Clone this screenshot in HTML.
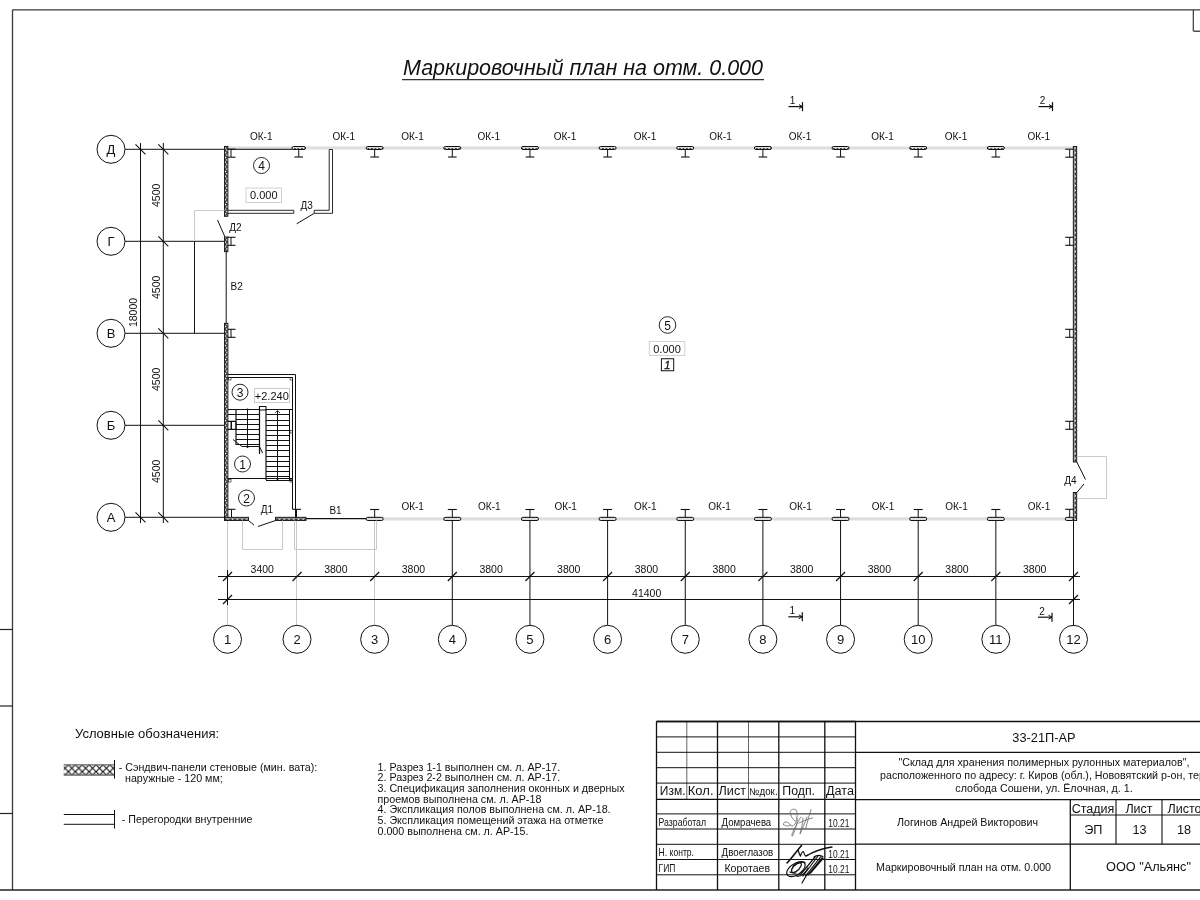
<!DOCTYPE html><html><head><meta charset="utf-8"><style>
html,body{margin:0;padding:0;background:#fff;width:1200px;height:900px;overflow:hidden}
svg{display:block;filter:grayscale(1);font-family:"Liberation Sans",sans-serif}
text{fill:#111;opacity:0.999}
</style></head><body>
<svg width="1200" height="900" viewBox="0 0 1200 900">
<defs>
<pattern id="hv" width="3.4" height="4.7" patternUnits="userSpaceOnUse"><rect width="3.4" height="4.7" fill="#eee"/><path d="M0 0 L3.4 2.35 L0 4.7" fill="none" stroke="#222" stroke-width="1.3"/></pattern>
<pattern id="hh" width="4.7" height="3.2" patternUnits="userSpaceOnUse"><rect width="4.7" height="3.2" fill="#eee"/><path d="M0 0 L2.35 3.2 L4.7 0" fill="none" stroke="#222" stroke-width="1.3"/></pattern>
<pattern id="xh" width="6.9" height="6.9" patternUnits="userSpaceOnUse" x="61.55" y="764.75"><rect width="6.9" height="6.9" fill="#fff"/><path d="M-1 -1 L7.9 7.9 M7.9 -1 L-1 7.9" stroke="#111" stroke-width="1.1"/></pattern>
<pattern id="fl" width="3.5" height="3" patternUnits="userSpaceOnUse"><rect width="3.5" height="3" fill="#ddd"/><rect x="0" y="1" width="1.8" height="1" fill="#444"/></pattern>
</defs>

<line x1="12.5" y1="9.8" x2="12.5" y2="890" stroke="#3a3a3a" stroke-width="1.3"/>
<line x1="12.5" y1="9.8" x2="1200" y2="9.8" stroke="#3a3a3a" stroke-width="1.3"/>
<line x1="0" y1="890" x2="1200" y2="890" stroke="#222" stroke-width="1.3"/>
<line x1="0" y1="629.5" x2="12.5" y2="629.5" stroke="#222" stroke-width="1.2"/>
<line x1="0" y1="706" x2="12.5" y2="706" stroke="#222" stroke-width="1.2"/>
<line x1="0" y1="813.5" x2="12.5" y2="813.5" stroke="#222" stroke-width="1.2"/>
<line x1="1193.3" y1="9.8" x2="1193.3" y2="31.2" stroke="#3a3a3a" stroke-width="1.2"/>
<line x1="1193.5" y1="31.2" x2="1200" y2="31.2" stroke="#222" stroke-width="1.2"/>
<text x="403" y="75.4" font-size="21.5" font-style="italic" text-anchor="start" textLength="360" lengthAdjust="spacingAndGlyphs">Маркировочный план на отм. 0.000</text>
<line x1="402" y1="79.6" x2="764" y2="79.6" stroke="#333" stroke-width="1.3"/>
<line x1="227.5" y1="520.5" x2="227.5" y2="625.3" stroke="#c9c9c9" stroke-width="1"/>
<line x1="296.5" y1="520.5" x2="296.5" y2="625.3" stroke="#c9c9c9" stroke-width="1"/>
<line x1="374.5" y1="520.5" x2="374.5" y2="625.3" stroke="#c9c9c9" stroke-width="1"/>
<line x1="452.3" y1="520.5" x2="452.3" y2="625.3" stroke="#111" stroke-width="1"/>
<line x1="529.95" y1="520.5" x2="529.95" y2="625.3" stroke="#111" stroke-width="1"/>
<line x1="607.6" y1="520.5" x2="607.6" y2="625.3" stroke="#111" stroke-width="1"/>
<line x1="685.25" y1="520.5" x2="685.25" y2="625.3" stroke="#111" stroke-width="1"/>
<line x1="762.9" y1="520.5" x2="762.9" y2="625.3" stroke="#111" stroke-width="1"/>
<line x1="840.55" y1="520.5" x2="840.55" y2="625.3" stroke="#111" stroke-width="1"/>
<line x1="918.2" y1="520.5" x2="918.2" y2="625.3" stroke="#111" stroke-width="1"/>
<line x1="995.85" y1="520.5" x2="995.85" y2="625.3" stroke="#111" stroke-width="1"/>
<line x1="1073.5" y1="520.5" x2="1073.5" y2="625.3" stroke="#111" stroke-width="1"/>
<line x1="227.5" y1="570" x2="227.5" y2="605" stroke="#111" stroke-width="1"/>
<circle cx="227.5" cy="639.3" r="14" fill="white" stroke="#111" stroke-width="1"/>
<text x="227.5" y="643.9" font-size="13" text-anchor="middle" >1</text>
<circle cx="297.0" cy="639.3" r="14" fill="white" stroke="#111" stroke-width="1"/>
<text x="297.0" y="643.9" font-size="13" text-anchor="middle" >2</text>
<circle cx="374.65" cy="639.3" r="14" fill="white" stroke="#111" stroke-width="1"/>
<text x="374.65" y="643.9" font-size="13" text-anchor="middle" >3</text>
<circle cx="452.3" cy="639.3" r="14" fill="white" stroke="#111" stroke-width="1"/>
<text x="452.3" y="643.9" font-size="13" text-anchor="middle" >4</text>
<circle cx="529.95" cy="639.3" r="14" fill="white" stroke="#111" stroke-width="1"/>
<text x="529.95" y="643.9" font-size="13" text-anchor="middle" >5</text>
<circle cx="607.6" cy="639.3" r="14" fill="white" stroke="#111" stroke-width="1"/>
<text x="607.6" y="643.9" font-size="13" text-anchor="middle" >6</text>
<circle cx="685.25" cy="639.3" r="14" fill="white" stroke="#111" stroke-width="1"/>
<text x="685.25" y="643.9" font-size="13" text-anchor="middle" >7</text>
<circle cx="762.9" cy="639.3" r="14" fill="white" stroke="#111" stroke-width="1"/>
<text x="762.9" y="643.9" font-size="13" text-anchor="middle" >8</text>
<circle cx="840.55" cy="639.3" r="14" fill="white" stroke="#111" stroke-width="1"/>
<text x="840.55" y="643.9" font-size="13" text-anchor="middle" >9</text>
<circle cx="918.2" cy="639.3" r="14" fill="white" stroke="#111" stroke-width="1"/>
<text x="918.2" y="643.9" font-size="13" text-anchor="middle" >10</text>
<circle cx="995.85" cy="639.3" r="14" fill="white" stroke="#111" stroke-width="1"/>
<text x="995.85" y="643.9" font-size="13" text-anchor="middle" >11</text>
<circle cx="1073.5" cy="639.3" r="14" fill="white" stroke="#111" stroke-width="1"/>
<text x="1073.5" y="643.9" font-size="13" text-anchor="middle" >12</text>
<line x1="125" y1="149.3" x2="224.5" y2="149.3" stroke="#111" stroke-width="1"/>
<circle cx="111" cy="149.3" r="14" fill="white" stroke="#111" stroke-width="1"/>
<text x="111" y="153.9" font-size="13" text-anchor="middle" >Д</text>
<line x1="125" y1="241.3" x2="224.5" y2="241.3" stroke="#111" stroke-width="1"/>
<circle cx="111" cy="241.3" r="14" fill="white" stroke="#111" stroke-width="1"/>
<text x="111" y="245.9" font-size="13" text-anchor="middle" >Г</text>
<line x1="125" y1="333.3" x2="224.5" y2="333.3" stroke="#111" stroke-width="1"/>
<circle cx="111" cy="333.3" r="14" fill="white" stroke="#111" stroke-width="1"/>
<text x="111" y="337.90000000000003" font-size="13" text-anchor="middle" >В</text>
<line x1="125" y1="425.3" x2="224.5" y2="425.3" stroke="#111" stroke-width="1"/>
<circle cx="111" cy="425.3" r="14" fill="white" stroke="#111" stroke-width="1"/>
<text x="111" y="429.90000000000003" font-size="13" text-anchor="middle" >Б</text>
<line x1="125" y1="517.3" x2="224.5" y2="517.3" stroke="#111" stroke-width="1"/>
<circle cx="111" cy="517.3" r="14" fill="white" stroke="#111" stroke-width="1"/>
<text x="111" y="521.9" font-size="13" text-anchor="middle" >А</text>
<line x1="218" y1="576.5" x2="1080" y2="576.5" stroke="#111" stroke-width="1"/>
<line x1="218" y1="599.5" x2="1080" y2="599.5" stroke="#111" stroke-width="1"/>
<line x1="1073.5" y1="520.5" x2="1073.5" y2="625.3" stroke="#111" stroke-width="1"/>
<line x1="223.0" y1="581" x2="232.0" y2="572" stroke="#111" stroke-width="1.2"/>
<line x1="292.5" y1="581" x2="301.5" y2="572" stroke="#111" stroke-width="1.2"/>
<line x1="370.15" y1="581" x2="379.15" y2="572" stroke="#111" stroke-width="1.2"/>
<line x1="447.8" y1="581" x2="456.8" y2="572" stroke="#111" stroke-width="1.2"/>
<line x1="525.45" y1="581" x2="534.45" y2="572" stroke="#111" stroke-width="1.2"/>
<line x1="603.1" y1="581" x2="612.1" y2="572" stroke="#111" stroke-width="1.2"/>
<line x1="680.75" y1="581" x2="689.75" y2="572" stroke="#111" stroke-width="1.2"/>
<line x1="758.4" y1="581" x2="767.4" y2="572" stroke="#111" stroke-width="1.2"/>
<line x1="836.05" y1="581" x2="845.05" y2="572" stroke="#111" stroke-width="1.2"/>
<line x1="913.7" y1="581" x2="922.7" y2="572" stroke="#111" stroke-width="1.2"/>
<line x1="991.35" y1="581" x2="1000.35" y2="572" stroke="#111" stroke-width="1.2"/>
<line x1="1069.0" y1="581" x2="1078.0" y2="572" stroke="#111" stroke-width="1.2"/>
<line x1="223.0" y1="604" x2="232.0" y2="595" stroke="#111" stroke-width="1.2"/>
<line x1="1069.0" y1="604" x2="1078.0" y2="595" stroke="#111" stroke-width="1.2"/>
<text x="262.25" y="573.3" font-size="10.5" text-anchor="middle" >3400</text>
<text x="335.825" y="573.3" font-size="10.5" text-anchor="middle" >3800</text>
<text x="413.475" y="573.3" font-size="10.5" text-anchor="middle" >3800</text>
<text x="491.125" y="573.3" font-size="10.5" text-anchor="middle" >3800</text>
<text x="568.7750000000001" y="573.3" font-size="10.5" text-anchor="middle" >3800</text>
<text x="646.425" y="573.3" font-size="10.5" text-anchor="middle" >3800</text>
<text x="724.075" y="573.3" font-size="10.5" text-anchor="middle" >3800</text>
<text x="801.7249999999999" y="573.3" font-size="10.5" text-anchor="middle" >3800</text>
<text x="879.375" y="573.3" font-size="10.5" text-anchor="middle" >3800</text>
<text x="957.0250000000001" y="573.3" font-size="10.5" text-anchor="middle" >3800</text>
<text x="1034.675" y="573.3" font-size="10.5" text-anchor="middle" >3800</text>
<text x="646.7" y="596.6" font-size="10.5" text-anchor="middle" >41400</text>
<line x1="140.5" y1="143" x2="140.5" y2="523" stroke="#111" stroke-width="1"/>
<line x1="163.3" y1="143" x2="163.3" y2="523" stroke="#111" stroke-width="1"/>
<line x1="158.3" y1="144.3" x2="168.3" y2="154.3" stroke="#111" stroke-width="1.1"/>
<line x1="158.3" y1="236.3" x2="168.3" y2="246.3" stroke="#111" stroke-width="1.1"/>
<line x1="158.3" y1="328.3" x2="168.3" y2="338.3" stroke="#111" stroke-width="1.1"/>
<line x1="158.3" y1="420.3" x2="168.3" y2="430.3" stroke="#111" stroke-width="1.1"/>
<line x1="158.3" y1="512.3" x2="168.3" y2="522.3" stroke="#111" stroke-width="1.1"/>
<line x1="135.5" y1="144.3" x2="145.5" y2="154.3" stroke="#111" stroke-width="1.1"/>
<line x1="135.5" y1="512.3" x2="145.5" y2="522.3" stroke="#111" stroke-width="1.1"/>
<text x="0" y="0" font-size="10.5" text-anchor="middle" transform="translate(160.3,195.3) rotate(-90)">4500</text>
<text x="0" y="0" font-size="10.5" text-anchor="middle" transform="translate(160.3,287.3) rotate(-90)">4500</text>
<text x="0" y="0" font-size="10.5" text-anchor="middle" transform="translate(160.3,379.3) rotate(-90)">4500</text>
<text x="0" y="0" font-size="10.5" text-anchor="middle" transform="translate(160.3,471.29999999999995) rotate(-90)">4500</text>
<text x="0" y="0" font-size="10.5" text-anchor="middle" transform="translate(137.4,312.5) rotate(-90)">18000</text>
<line x1="788.5" y1="106.6" x2="802.5" y2="106.6" stroke="#111" stroke-width="1.2"/>
<line x1="802.5" y1="102.1" x2="802.5" y2="111.1" stroke="#111" stroke-width="1.2"/>
<line x1="799.0" y1="104.6" x2="802.5" y2="106.6" stroke="#111" stroke-width="1"/>
<line x1="799.0" y1="108.6" x2="802.5" y2="106.6" stroke="#111" stroke-width="1"/>
<text x="792.5" y="104.1" font-size="10" text-anchor="middle" >1</text>
<line x1="1038.5" y1="106.6" x2="1052.5" y2="106.6" stroke="#111" stroke-width="1.2"/>
<line x1="1052.5" y1="102.1" x2="1052.5" y2="111.1" stroke="#111" stroke-width="1.2"/>
<line x1="1049.0" y1="104.6" x2="1052.5" y2="106.6" stroke="#111" stroke-width="1"/>
<line x1="1049.0" y1="108.6" x2="1052.5" y2="106.6" stroke="#111" stroke-width="1"/>
<text x="1042.5" y="104.1" font-size="10" text-anchor="middle" >2</text>
<line x1="788.3" y1="616.8" x2="802.3" y2="616.8" stroke="#111" stroke-width="1.2"/>
<line x1="802.3" y1="612.3" x2="802.3" y2="621.3" stroke="#111" stroke-width="1.2"/>
<line x1="798.8" y1="614.8" x2="802.3" y2="616.8" stroke="#111" stroke-width="1"/>
<line x1="798.8" y1="618.8" x2="802.3" y2="616.8" stroke="#111" stroke-width="1"/>
<text x="792.3" y="614.3" font-size="10" text-anchor="middle" >1</text>
<line x1="1038" y1="617.2" x2="1052" y2="617.2" stroke="#111" stroke-width="1.2"/>
<line x1="1052" y1="612.7" x2="1052" y2="621.7" stroke="#111" stroke-width="1.2"/>
<line x1="1048.5" y1="615.2" x2="1052" y2="617.2" stroke="#111" stroke-width="1"/>
<line x1="1048.5" y1="619.2" x2="1052" y2="617.2" stroke="#111" stroke-width="1"/>
<text x="1042" y="614.7" font-size="10" text-anchor="middle" >2</text>
<rect x="227.8" y="146.4" width="845.4000000000001" height="3.1" fill="#dedede"/>
<line x1="227.8" y1="149.3" x2="298" y2="149.3" stroke="#111" stroke-width="1"/>
<rect x="382.5" y="517.3" width="690.7" height="3.2" fill="#dedede"/>
<rect x="224.5" y="146.4" width="3.4" height="69.9" fill="url(#hv)" stroke="#111" stroke-width="0.9"/>
<rect x="224.5" y="237" width="3.4" height="14.699999999999989" fill="url(#hv)" stroke="#111" stroke-width="0.9"/>
<rect x="224.5" y="323.3" width="3.4" height="197.2" fill="url(#hv)" stroke="#111" stroke-width="0.9"/>
<line x1="226.2" y1="251.7" x2="226.2" y2="323.3" stroke="#111" stroke-width="1"/>
<rect x="1073.3" y="146.4" width="3.4" height="315.6" fill="url(#hv)" stroke="#111" stroke-width="0.9"/>
<rect x="1073.3" y="492.5" width="3.4" height="28.0" fill="url(#hv)" stroke="#111" stroke-width="0.9"/>
<rect x="224.5" y="517.3" width="24.0" height="3.2" fill="url(#hh)" stroke="#111" stroke-width="0.9"/>
<rect x="275.5" y="517.3" width="30.5" height="3.2" fill="url(#hh)" stroke="#111" stroke-width="0.9"/>
<line x1="306" y1="518.6" x2="366" y2="518.6" stroke="#111" stroke-width="1.1"/>
<rect x="292.0" y="146.5" width="13.5" height="3" rx="1.5" fill="url(#fl)" stroke="#111" stroke-width="1"/>
<line x1="298.75" y1="149.5" x2="298.75" y2="157" stroke="#111" stroke-width="1"/>
<line x1="294.45" y1="157" x2="303.05" y2="157" stroke="#111" stroke-width="1.1"/>
<rect x="366.15" y="146.5" width="17" height="3" rx="1.5" fill="url(#fl)" stroke="#111" stroke-width="1"/>
<line x1="374.65" y1="149.5" x2="374.65" y2="157" stroke="#111" stroke-width="1"/>
<line x1="370.34999999999997" y1="157" x2="378.95" y2="157" stroke="#111" stroke-width="1.1"/>
<rect x="443.8" y="146.5" width="17" height="3" rx="1.5" fill="url(#fl)" stroke="#111" stroke-width="1"/>
<line x1="452.3" y1="149.5" x2="452.3" y2="157" stroke="#111" stroke-width="1"/>
<line x1="448.0" y1="157" x2="456.6" y2="157" stroke="#111" stroke-width="1.1"/>
<rect x="521.45" y="146.5" width="17" height="3" rx="1.5" fill="url(#fl)" stroke="#111" stroke-width="1"/>
<line x1="529.95" y1="149.5" x2="529.95" y2="157" stroke="#111" stroke-width="1"/>
<line x1="525.6500000000001" y1="157" x2="534.25" y2="157" stroke="#111" stroke-width="1.1"/>
<rect x="599.1" y="146.5" width="17" height="3" rx="1.5" fill="url(#fl)" stroke="#111" stroke-width="1"/>
<line x1="607.6" y1="149.5" x2="607.6" y2="157" stroke="#111" stroke-width="1"/>
<line x1="603.3000000000001" y1="157" x2="611.9" y2="157" stroke="#111" stroke-width="1.1"/>
<rect x="676.75" y="146.5" width="17" height="3" rx="1.5" fill="url(#fl)" stroke="#111" stroke-width="1"/>
<line x1="685.25" y1="149.5" x2="685.25" y2="157" stroke="#111" stroke-width="1"/>
<line x1="680.95" y1="157" x2="689.55" y2="157" stroke="#111" stroke-width="1.1"/>
<rect x="754.4" y="146.5" width="17" height="3" rx="1.5" fill="url(#fl)" stroke="#111" stroke-width="1"/>
<line x1="762.9" y1="149.5" x2="762.9" y2="157" stroke="#111" stroke-width="1"/>
<line x1="758.6" y1="157" x2="767.1999999999999" y2="157" stroke="#111" stroke-width="1.1"/>
<rect x="832.05" y="146.5" width="17" height="3" rx="1.5" fill="url(#fl)" stroke="#111" stroke-width="1"/>
<line x1="840.55" y1="149.5" x2="840.55" y2="157" stroke="#111" stroke-width="1"/>
<line x1="836.25" y1="157" x2="844.8499999999999" y2="157" stroke="#111" stroke-width="1.1"/>
<rect x="909.7" y="146.5" width="17" height="3" rx="1.5" fill="url(#fl)" stroke="#111" stroke-width="1"/>
<line x1="918.2" y1="149.5" x2="918.2" y2="157" stroke="#111" stroke-width="1"/>
<line x1="913.9000000000001" y1="157" x2="922.5" y2="157" stroke="#111" stroke-width="1.1"/>
<rect x="987.35" y="146.5" width="17" height="3" rx="1.5" fill="url(#fl)" stroke="#111" stroke-width="1"/>
<line x1="995.85" y1="149.5" x2="995.85" y2="157" stroke="#111" stroke-width="1"/>
<line x1="991.5500000000001" y1="157" x2="1000.15" y2="157" stroke="#111" stroke-width="1.1"/>
<rect x="366.15" y="517.3" width="17" height="3.2" rx="1.5" fill="url(#fl)" stroke="#111" stroke-width="1"/>
<line x1="374.65" y1="509.5" x2="374.65" y2="517.3" stroke="#111" stroke-width="1"/>
<line x1="370.15" y1="509.5" x2="379.15" y2="509.5" stroke="#111" stroke-width="1.1"/>
<rect x="443.8" y="517.3" width="17" height="3.2" rx="1.5" fill="url(#fl)" stroke="#111" stroke-width="1"/>
<line x1="452.3" y1="509.5" x2="452.3" y2="517.3" stroke="#111" stroke-width="1"/>
<line x1="447.8" y1="509.5" x2="456.8" y2="509.5" stroke="#111" stroke-width="1.1"/>
<rect x="521.45" y="517.3" width="17" height="3.2" rx="1.5" fill="url(#fl)" stroke="#111" stroke-width="1"/>
<line x1="529.95" y1="509.5" x2="529.95" y2="517.3" stroke="#111" stroke-width="1"/>
<line x1="525.45" y1="509.5" x2="534.45" y2="509.5" stroke="#111" stroke-width="1.1"/>
<rect x="599.1" y="517.3" width="17" height="3.2" rx="1.5" fill="url(#fl)" stroke="#111" stroke-width="1"/>
<line x1="607.6" y1="509.5" x2="607.6" y2="517.3" stroke="#111" stroke-width="1"/>
<line x1="603.1" y1="509.5" x2="612.1" y2="509.5" stroke="#111" stroke-width="1.1"/>
<rect x="676.75" y="517.3" width="17" height="3.2" rx="1.5" fill="url(#fl)" stroke="#111" stroke-width="1"/>
<line x1="685.25" y1="509.5" x2="685.25" y2="517.3" stroke="#111" stroke-width="1"/>
<line x1="680.75" y1="509.5" x2="689.75" y2="509.5" stroke="#111" stroke-width="1.1"/>
<rect x="754.4" y="517.3" width="17" height="3.2" rx="1.5" fill="url(#fl)" stroke="#111" stroke-width="1"/>
<line x1="762.9" y1="509.5" x2="762.9" y2="517.3" stroke="#111" stroke-width="1"/>
<line x1="758.4" y1="509.5" x2="767.4" y2="509.5" stroke="#111" stroke-width="1.1"/>
<rect x="832.05" y="517.3" width="17" height="3.2" rx="1.5" fill="url(#fl)" stroke="#111" stroke-width="1"/>
<line x1="840.55" y1="509.5" x2="840.55" y2="517.3" stroke="#111" stroke-width="1"/>
<line x1="836.05" y1="509.5" x2="845.05" y2="509.5" stroke="#111" stroke-width="1.1"/>
<rect x="909.7" y="517.3" width="17" height="3.2" rx="1.5" fill="url(#fl)" stroke="#111" stroke-width="1"/>
<line x1="918.2" y1="509.5" x2="918.2" y2="517.3" stroke="#111" stroke-width="1"/>
<line x1="913.7" y1="509.5" x2="922.7" y2="509.5" stroke="#111" stroke-width="1.1"/>
<rect x="987.35" y="517.3" width="17" height="3.2" rx="1.5" fill="url(#fl)" stroke="#111" stroke-width="1"/>
<line x1="995.85" y1="509.5" x2="995.85" y2="517.3" stroke="#111" stroke-width="1"/>
<line x1="991.35" y1="509.5" x2="1000.35" y2="509.5" stroke="#111" stroke-width="1.1"/>
<line x1="227.8" y1="149.2" x2="235.5" y2="149.2" stroke="#111" stroke-width="1.1"/>
<line x1="227.8" y1="157.2" x2="235.5" y2="157.2" stroke="#111" stroke-width="1.1"/>
<line x1="231" y1="149.2" x2="231" y2="157.2" stroke="#111" stroke-width="1"/>
<line x1="227.8" y1="237.3" x2="235.5" y2="237.3" stroke="#111" stroke-width="1.1"/>
<line x1="227.8" y1="245.3" x2="235.5" y2="245.3" stroke="#111" stroke-width="1.1"/>
<line x1="231" y1="237.3" x2="231" y2="245.3" stroke="#111" stroke-width="1"/>
<line x1="227.8" y1="329.3" x2="235.5" y2="329.3" stroke="#111" stroke-width="1.1"/>
<line x1="227.8" y1="337.3" x2="235.5" y2="337.3" stroke="#111" stroke-width="1.1"/>
<line x1="231" y1="329.3" x2="231" y2="337.3" stroke="#111" stroke-width="1"/>
<line x1="227.8" y1="421.3" x2="235.5" y2="421.3" stroke="#111" stroke-width="1.1"/>
<line x1="227.8" y1="429.3" x2="235.5" y2="429.3" stroke="#111" stroke-width="1.1"/>
<line x1="231" y1="421.3" x2="231" y2="429.3" stroke="#111" stroke-width="1"/>
<line x1="1065.2" y1="149.2" x2="1073.3" y2="149.2" stroke="#111" stroke-width="1.1"/>
<line x1="1065.2" y1="157.2" x2="1073.3" y2="157.2" stroke="#111" stroke-width="1.1"/>
<line x1="1069.7" y1="149.2" x2="1069.7" y2="157.2" stroke="#111" stroke-width="1"/>
<line x1="1065.2" y1="237.3" x2="1073.3" y2="237.3" stroke="#111" stroke-width="1.1"/>
<line x1="1065.2" y1="245.3" x2="1073.3" y2="245.3" stroke="#111" stroke-width="1.1"/>
<line x1="1069.7" y1="237.3" x2="1069.7" y2="245.3" stroke="#111" stroke-width="1"/>
<line x1="1065.2" y1="329.3" x2="1073.3" y2="329.3" stroke="#111" stroke-width="1.1"/>
<line x1="1065.2" y1="337.3" x2="1073.3" y2="337.3" stroke="#111" stroke-width="1.1"/>
<line x1="1069.7" y1="329.3" x2="1069.7" y2="337.3" stroke="#111" stroke-width="1"/>
<line x1="1065.2" y1="421.3" x2="1073.3" y2="421.3" stroke="#111" stroke-width="1.1"/>
<line x1="1065.2" y1="429.3" x2="1073.3" y2="429.3" stroke="#111" stroke-width="1.1"/>
<line x1="1069.7" y1="421.3" x2="1069.7" y2="429.3" stroke="#111" stroke-width="1"/>
<line x1="228" y1="509.3" x2="235.5" y2="509.3" stroke="#111" stroke-width="1.1"/>
<line x1="231.5" y1="509.3" x2="231.5" y2="517.3" stroke="#111" stroke-width="1"/>
<line x1="292.5" y1="509.3" x2="301" y2="509.3" stroke="#111" stroke-width="1.1"/>
<line x1="296.5" y1="509.3" x2="296.5" y2="517.3" stroke="#111" stroke-width="1"/>
<line x1="1065.2" y1="509.3" x2="1073.3" y2="509.3" stroke="#111" stroke-width="1.1"/>
<line x1="1069.7" y1="509.3" x2="1069.7" y2="517.3" stroke="#111" stroke-width="1"/>
<rect x="1065.3" y="517.3" width="8" height="3.2" rx="1.5" fill="url(#fl)" stroke="#111" stroke-width="1"/>
<text x="261.25" y="139.8" font-size="10" text-anchor="middle" >ОК-1</text>
<text x="343.75" y="139.8" font-size="10" text-anchor="middle" >ОК-1</text>
<text x="412.5" y="139.8" font-size="10" text-anchor="middle" >ОК-1</text>
<text x="488.75" y="139.8" font-size="10" text-anchor="middle" >ОК-1</text>
<text x="565" y="139.8" font-size="10" text-anchor="middle" >ОК-1</text>
<text x="645" y="139.8" font-size="10" text-anchor="middle" >ОК-1</text>
<text x="720.5" y="139.8" font-size="10" text-anchor="middle" >ОК-1</text>
<text x="800" y="139.8" font-size="10" text-anchor="middle" >ОК-1</text>
<text x="882.5" y="139.8" font-size="10" text-anchor="middle" >ОК-1</text>
<text x="956" y="139.8" font-size="10" text-anchor="middle" >ОК-1</text>
<text x="1038.75" y="139.8" font-size="10" text-anchor="middle" >ОК-1</text>
<text x="412.7" y="510.4" font-size="10" text-anchor="middle" >ОК-1</text>
<text x="489.3" y="510.4" font-size="10" text-anchor="middle" >ОК-1</text>
<text x="565.7" y="510.4" font-size="10" text-anchor="middle" >ОК-1</text>
<text x="645.3" y="510.4" font-size="10" text-anchor="middle" >ОК-1</text>
<text x="719.6" y="510.4" font-size="10" text-anchor="middle" >ОК-1</text>
<text x="800.5" y="510.4" font-size="10" text-anchor="middle" >ОК-1</text>
<text x="883" y="510.4" font-size="10" text-anchor="middle" >ОК-1</text>
<text x="956.5" y="510.4" font-size="10" text-anchor="middle" >ОК-1</text>
<text x="1039" y="510.4" font-size="10" text-anchor="middle" >ОК-1</text>
<text x="335.5" y="513.5" font-size="10" text-anchor="middle" >В1</text>
<text x="236.7" y="289.5" font-size="10" text-anchor="middle" >В2</text>
<path d="M227.8 210.3 H293.8 V213.3 H227.8" fill="none" stroke="#111" stroke-width="0.9"/>
<path d="M314.2 210.3 H329.2 V149.5 H332.5 V213.3 H314.2 Z" fill="white" stroke="#111" stroke-width="0.9"/>
<line x1="296.7" y1="223.8" x2="314.2" y2="213.3" stroke="#111" stroke-width="1"/>
<text x="306.7" y="209" font-size="10" text-anchor="middle" >Д3</text>
<circle cx="261.5" cy="165.5" r="8" fill="white" stroke="#111" stroke-width="0.9"/>
<text x="261.5" y="170.0" font-size="12" text-anchor="middle" >4</text>
<rect x="246" y="188" width="35.5" height="14.5" fill="none" stroke="#ccc" stroke-width="0.9" rx="0"/>
<text x="263.75" y="199.3" font-size="11" text-anchor="middle" >0.000</text>
<line x1="217.5" y1="220" x2="225" y2="237" stroke="#111" stroke-width="1"/>
<text x="235.5" y="231" font-size="10" text-anchor="middle" >Д2</text>
<path d="M224.5 210.5 H194.5 V241.3" fill="none" stroke="#c9c9c9" stroke-width="1"/>
<line x1="194.5" y1="241.3" x2="194.5" y2="333.3" stroke="#111" stroke-width="1"/>
<circle cx="667.5" cy="325" r="8.3" fill="white" stroke="#111" stroke-width="0.9"/>
<text x="667.5" y="329.7" font-size="12" text-anchor="middle" >5</text>
<rect x="649.3" y="341.4" width="35.5" height="14" fill="none" stroke="#ccc" stroke-width="0.9" rx="0"/>
<text x="667" y="352.5" font-size="11" text-anchor="middle" >0.000</text>
<rect x="661.4" y="358.75" width="12.3" height="12" fill="none" stroke="#111" stroke-width="1" rx="0"/>
<text x="667.3" y="368.8" font-size="11" text-anchor="middle" font-style="italic" stroke="#111" stroke-width="0.3">1</text>
<path d="M1076.8 456.5 H1106.5 V498.5 H1076.8" fill="none" stroke="#c9c9c9" stroke-width="1"/>
<line x1="1076.8" y1="462" x2="1085.5" y2="479.5" stroke="#111" stroke-width="1"/>
<line x1="1076.8" y1="492.5" x2="1084" y2="484" stroke="#111" stroke-width="1"/>
<text x="1070.5" y="484" font-size="10" text-anchor="middle" >Д4</text>
<path d="M242.5 520.5 V549.5 H282.5 V520.5" fill="none" stroke="#c9c9c9" stroke-width="1"/>
<path d="M294.5 520.5 V549.5 H376.5 V520.5" fill="none" stroke="#c9c9c9" stroke-width="1"/>
<line x1="248.5" y1="520.5" x2="254" y2="525" stroke="#111" stroke-width="1"/>
<line x1="275.5" y1="520.5" x2="258" y2="526.5" stroke="#111" stroke-width="1"/>
<text x="267" y="513" font-size="10" text-anchor="middle" >Д1</text>
<path d="M227.8 374.5 H295.5 V517.3 M227.8 377.5 H292.5 V509.3" fill="none" stroke="#111" stroke-width="1"/>
<rect x="228.5" y="377.5" width="2.5" height="2.5" fill="none" stroke="#111" stroke-width="0.6" rx="0"/>
<rect x="290" y="377.5" width="2.5" height="2.5" fill="none" stroke="#111" stroke-width="0.6" rx="0"/>
<circle cx="240" cy="392.2" r="8" fill="white" stroke="#111" stroke-width="0.9"/>
<text x="240" y="396.9" font-size="12" text-anchor="middle" >3</text>
<rect x="254.5" y="388.5" width="35" height="14" fill="none" stroke="#ccc" stroke-width="1" rx="0"/>
<text x="271.8" y="399.5" font-size="11" text-anchor="middle" >+2.240</text>
<line x1="227.8" y1="409.5" x2="259.5" y2="409.5" stroke="#111" stroke-width="1"/>
<line x1="266" y1="409.5" x2="292.5" y2="409.5" stroke="#111" stroke-width="1"/>
<line x1="236" y1="409" x2="236" y2="445" stroke="#111" stroke-width="1.2"/>
<line x1="259.5" y1="406" x2="259.5" y2="454" stroke="#111" stroke-width="1.2"/>
<line x1="236" y1="409.5" x2="259.5" y2="409.5" stroke="#111" stroke-width="1"/>
<line x1="236" y1="414.5" x2="259.5" y2="414.5" stroke="#111" stroke-width="1"/>
<line x1="236" y1="419.5" x2="259.5" y2="419.5" stroke="#111" stroke-width="1"/>
<line x1="236" y1="424.5" x2="259.5" y2="424.5" stroke="#111" stroke-width="1"/>
<line x1="236" y1="429.5" x2="259.5" y2="429.5" stroke="#111" stroke-width="1"/>
<line x1="236" y1="434.5" x2="259.5" y2="434.5" stroke="#111" stroke-width="1"/>
<line x1="236" y1="439.5" x2="259.5" y2="439.5" stroke="#111" stroke-width="1"/>
<line x1="236" y1="444.5" x2="259.5" y2="444.5" stroke="#111" stroke-width="1"/>
<line x1="247.5" y1="409.5" x2="247.5" y2="447" stroke="#111" stroke-width="1"/>
<circle cx="247.5" cy="409.5" r="1" fill="#111"/><circle cx="247.5" cy="447" r="1" fill="#111"/>
<path d="M233 439.5 L242 446.5 H259.5 M259.5 446.5 L262.5 453" fill="none" stroke="#111" stroke-width="1"/>
<rect x="259.5" y="406.5" width="6.5" height="3.5" fill="white" stroke="#111" stroke-width="1" rx="0"/>
<line x1="266" y1="409" x2="266" y2="480" stroke="#111" stroke-width="1.2"/>
<line x1="289.5" y1="409.5" x2="289.5" y2="480" stroke="#111" stroke-width="1"/>
<line x1="266" y1="409.5" x2="289.5" y2="409.5" stroke="#111" stroke-width="1"/>
<line x1="266" y1="414.5" x2="289.5" y2="414.5" stroke="#111" stroke-width="1"/>
<line x1="266" y1="420.5" x2="289.5" y2="420.5" stroke="#111" stroke-width="1"/>
<line x1="266" y1="425.5" x2="289.5" y2="425.5" stroke="#111" stroke-width="1"/>
<line x1="266" y1="430.5" x2="289.5" y2="430.5" stroke="#111" stroke-width="1"/>
<line x1="266" y1="435.5" x2="289.5" y2="435.5" stroke="#111" stroke-width="1"/>
<line x1="266" y1="440.5" x2="289.5" y2="440.5" stroke="#111" stroke-width="1"/>
<line x1="266" y1="445.5" x2="289.5" y2="445.5" stroke="#111" stroke-width="1"/>
<line x1="266" y1="450.5" x2="289.5" y2="450.5" stroke="#111" stroke-width="1"/>
<line x1="266" y1="456.5" x2="289.5" y2="456.5" stroke="#111" stroke-width="1"/>
<line x1="266" y1="461.5" x2="289.5" y2="461.5" stroke="#111" stroke-width="1"/>
<line x1="266" y1="466.5" x2="289.5" y2="466.5" stroke="#111" stroke-width="1"/>
<line x1="266" y1="471.5" x2="289.5" y2="471.5" stroke="#111" stroke-width="1"/>
<line x1="266" y1="476.5" x2="289.5" y2="476.5" stroke="#111" stroke-width="1"/>
<line x1="277.5" y1="411" x2="277.5" y2="480" stroke="#111" stroke-width="1"/>
<circle cx="277.5" cy="480" r="1.1" fill="#111"/>
<line x1="275" y1="413" x2="277.5" y2="410.5" stroke="#111" stroke-width="0.8"/>
<line x1="280" y1="413" x2="277.5" y2="410.5" stroke="#111" stroke-width="0.8"/>
<line x1="227.8" y1="478.5" x2="292.5" y2="478.5" stroke="#111" stroke-width="1"/>
<line x1="266" y1="480.5" x2="292.5" y2="480.5" stroke="#111" stroke-width="1"/>
<path d="M227.8 421.5 H236 V429.5 H227.8 M231.5 421.5 V429.5" fill="none" stroke="#111" stroke-width="1"/>
<line x1="227.8" y1="414.5" x2="236" y2="414.5" stroke="#111" stroke-width="1"/>
<rect x="228.5" y="479.5" width="2.5" height="2.5" fill="none" stroke="#111" stroke-width="0.6" rx="0"/>
<rect x="290" y="479.5" width="2.5" height="2.5" fill="none" stroke="#111" stroke-width="0.6" rx="0"/>
<rect x="290" y="430.5" width="2.5" height="2.5" fill="none" stroke="#111" stroke-width="0.6" rx="0"/>
<circle cx="242.5" cy="464" r="8" fill="white" stroke="#111" stroke-width="0.9"/>
<text x="242.5" y="468.7" font-size="12" text-anchor="middle" >1</text>
<circle cx="246.5" cy="498" r="8" fill="white" stroke="#111" stroke-width="0.9"/>
<text x="246.5" y="502.7" font-size="12" text-anchor="middle" >2</text>
<text x="75" y="738" font-size="13" text-anchor="start" >Условные обозначения:</text>
<rect x="63.75" y="764.75" width="50.75" height="10.35" fill="url(#xh)"/>
<line x1="63.75" y1="764.9" x2="114.5" y2="764.9" stroke="#666" stroke-width="1.3"/>
<line x1="63.75" y1="775" x2="114.5" y2="775" stroke="#666" stroke-width="1.3"/>
<line x1="114.5" y1="760" x2="114.5" y2="778.5" stroke="#111" stroke-width="1"/>
<text x="118.75" y="771.3" font-size="10.7" text-anchor="start" >- Сэндвич-панели стеновые (мин. вата):</text>
<text x="125" y="782.3" font-size="10.7" text-anchor="start" >наружные - 120 мм;</text>
<line x1="63.75" y1="814.5" x2="114.5" y2="814.5" stroke="#111" stroke-width="1"/>
<line x1="63.75" y1="824.3" x2="114.5" y2="824.3" stroke="#111" stroke-width="1"/>
<line x1="114.5" y1="810" x2="114.5" y2="828.5" stroke="#111" stroke-width="1"/>
<text x="121.75" y="822.6" font-size="10.7" text-anchor="start" >- Перегородки внутренние</text>
<text x="377.5" y="770.5" font-size="10.7" text-anchor="start" >1. Разрез 1-1 выполнен см. л. АР-17.</text>
<text x="377.5" y="781.22" font-size="10.7" text-anchor="start" >2. Разрез 2-2 выполнен см. л. АР-17.</text>
<text x="377.5" y="791.94" font-size="10.7" text-anchor="start" >3. Спецификация заполнения оконных и дверных</text>
<text x="377.5" y="802.66" font-size="10.7" text-anchor="start" >проемов выполнена см. л. АР-18</text>
<text x="377.5" y="813.38" font-size="10.7" text-anchor="start" >4. Экспликация полов выполнена см. л. АР-18.</text>
<text x="377.5" y="824.1" font-size="10.7" text-anchor="start" >5. Экспликация помещений этажа на отметке</text>
<text x="377.5" y="834.82" font-size="10.7" text-anchor="start" >0.000 выполнена см. л. АР-15.</text>
<line x1="656.5" y1="721.5" x2="656.5" y2="890" stroke="#111" stroke-width="1.3"/>
<line x1="717.5" y1="721.5" x2="717.5" y2="890" stroke="#111" stroke-width="1.3"/>
<line x1="778.8" y1="721.5" x2="778.8" y2="890" stroke="#111" stroke-width="1.3"/>
<line x1="824.8" y1="721.5" x2="824.8" y2="890" stroke="#111" stroke-width="1.3"/>
<line x1="855.5" y1="721.5" x2="855.5" y2="890" stroke="#111" stroke-width="1.3"/>
<line x1="686.8" y1="721.5" x2="686.8" y2="799.4" stroke="#555" stroke-width="0.9"/>
<line x1="748.5" y1="721.5" x2="748.5" y2="799.4" stroke="#555" stroke-width="0.9"/>
<line x1="656.5" y1="721.5" x2="855.5" y2="721.5" stroke="#111" stroke-width="1.3"/>
<line x1="656.5" y1="736.9" x2="855.5" y2="736.9" stroke="#111" stroke-width="1.0"/>
<line x1="656.5" y1="752.3" x2="855.5" y2="752.3" stroke="#111" stroke-width="1.0"/>
<line x1="656.5" y1="767.7" x2="855.5" y2="767.7" stroke="#111" stroke-width="1.0"/>
<line x1="656.5" y1="783.1" x2="855.5" y2="783.1" stroke="#111" stroke-width="1.0"/>
<line x1="656.5" y1="799.4" x2="855.5" y2="799.4" stroke="#111" stroke-width="1.3"/>
<line x1="656.5" y1="813.9" x2="855.5" y2="813.9" stroke="#111" stroke-width="1.0"/>
<line x1="656.5" y1="829" x2="855.5" y2="829" stroke="#111" stroke-width="1.0"/>
<line x1="656.5" y1="844.3" x2="855.5" y2="844.3" stroke="#111" stroke-width="1.0"/>
<line x1="656.5" y1="859.5" x2="855.5" y2="859.5" stroke="#111" stroke-width="1.0"/>
<line x1="656.5" y1="874.8" x2="855.5" y2="874.8" stroke="#111" stroke-width="1.0"/>
<line x1="656.5" y1="721.5" x2="1200" y2="721.5" stroke="#111" stroke-width="1.3"/>
<line x1="855.5" y1="752.3" x2="1200" y2="752.3" stroke="#111" stroke-width="1.2"/>
<line x1="855.5" y1="799.6" x2="1200" y2="799.6" stroke="#111" stroke-width="1.3"/>
<line x1="855.5" y1="844.2" x2="1200" y2="844.2" stroke="#111" stroke-width="1.3"/>
<line x1="1070.3" y1="799.6" x2="1070.3" y2="890" stroke="#111" stroke-width="1.3"/>
<line x1="1116" y1="799.6" x2="1116" y2="844.2" stroke="#111" stroke-width="1.1"/>
<line x1="1162" y1="799.6" x2="1162" y2="844.2" stroke="#111" stroke-width="1.1"/>
<line x1="1070.3" y1="815" x2="1200" y2="815" stroke="#111" stroke-width="1.1"/>
<text x="659.8" y="795.3" font-size="12.5" text-anchor="start" textLength="25.7" lengthAdjust="spacingAndGlyphs">Изм.</text>
<text x="687.8" y="795.3" font-size="12.5" text-anchor="start" textLength="25.7" lengthAdjust="spacingAndGlyphs">Кол.</text>
<text x="718.6" y="795.3" font-size="12.5" text-anchor="start" textLength="27.4" lengthAdjust="spacingAndGlyphs">Лист</text>
<text x="749" y="795.3" font-size="10" text-anchor="start" textLength="28.6" lengthAdjust="spacingAndGlyphs">№док.</text>
<text x="782.3" y="795.3" font-size="12.5" text-anchor="start" textLength="32.7" lengthAdjust="spacingAndGlyphs">Подп.</text>
<text x="826" y="795.3" font-size="12.5" text-anchor="start" textLength="28" lengthAdjust="spacingAndGlyphs">Дата</text>
<text x="658.6" y="826" font-size="11" text-anchor="start" textLength="47.4" lengthAdjust="spacingAndGlyphs">Разработал</text>
<text x="721.6" y="825.6" font-size="11" text-anchor="start" textLength="49.6" lengthAdjust="spacingAndGlyphs">Домрачева</text>
<text x="828.3" y="827.3" font-size="11" text-anchor="start" textLength="21" lengthAdjust="spacingAndGlyphs">10.21</text>
<text x="658.6" y="855.7" font-size="11" text-anchor="start" textLength="35.4" lengthAdjust="spacingAndGlyphs">Н. контр.</text>
<text x="721.6" y="855.7" font-size="11" text-anchor="start" textLength="51.7" lengthAdjust="spacingAndGlyphs">Двоеглазов</text>
<text x="828.3" y="858.3" font-size="11" text-anchor="start" textLength="21" lengthAdjust="spacingAndGlyphs">10.21</text>
<text x="658.6" y="872.3" font-size="11" text-anchor="start" textLength="16.8" lengthAdjust="spacingAndGlyphs">ГИП</text>
<text x="724.4" y="872.3" font-size="11" text-anchor="start" textLength="45.6" lengthAdjust="spacingAndGlyphs">Коротаев</text>
<text x="828.3" y="873.3" font-size="11" text-anchor="start" textLength="21" lengthAdjust="spacingAndGlyphs">10.21</text>
<text x="1044" y="742.3" font-size="12.8" text-anchor="middle" >33-21П-АР</text>
<text x="1044" y="765.7" font-size="10.7" text-anchor="middle" >"Склад для хранения полимерных рулонных материалов",</text>
<text x="1044" y="778.8" font-size="10.7" text-anchor="middle" >расположенного по адресу: г. Киров (обл.), Нововятский р-он, тер.</text>
<text x="1044" y="792.3" font-size="10.7" text-anchor="middle" >слобода Сошени, ул. Ёлочная, д. 1.</text>
<text x="967.5" y="825.8" font-size="10.7" text-anchor="middle" >Логинов Андрей Викторович</text>
<text x="963.5" y="871.2" font-size="10.7" text-anchor="middle" >Маркировочный план на отм. 0.000</text>
<text x="1148.5" y="870.6" font-size="12.7" text-anchor="middle" >ООО "Альянс"</text>
<text x="1093" y="813" font-size="12.5" text-anchor="middle" >Стадия</text>
<text x="1139" y="813" font-size="12.5" text-anchor="middle" >Лист</text>
<text x="1167.5" y="813" font-size="12.5" text-anchor="start" >Листов</text>
<text x="1093.3" y="834.3" font-size="12.7" text-anchor="middle" >ЭП</text>
<text x="1139.5" y="834.3" font-size="12.7" text-anchor="middle" >13</text>
<text x="1184" y="834.3" font-size="12.7" text-anchor="middle" >18</text>
<g fill="none" stroke="#666" stroke-width="0.8" stroke-linecap="round"><path d="M783.5 824.5 C783 821, 788 821, 790.5 825 C792 827, 794 826, 795.5 823 C797 819, 798 812, 796 810 C793 808, 789 810, 790.5 814 C791.5 817, 793 820, 795 821"/><path d="M783.5 824.5 C785 826, 788 827, 790.5 825"/><path d="M797 818 C798 822, 796 828, 792.5 836 C791 837, 792 832, 797 824 C799 820, 800 818, 801 817"/><path d="M803 818 C803 824, 801 829, 800 834 C802 830, 805 822, 807 817"/><path d="M811 809.5 C809 816, 807 823, 805.5 829 M799 823 C803 821, 808 819, 812.5 818"/></g>
<g fill="none" stroke="#111" stroke-width="1.2" stroke-linecap="round" stroke-linejoin="round"><path d="M787 863 C791 859, 796 852, 801.5 845.5" stroke-width="1.6"/><path d="M798 850 C799 853, 799.5 855, 800.5 856 C801.5 852, 803.5 850, 804 853 C804.5 856, 806 856.5, 808 855"/><path d="M806 856 C813 852, 822 848.5, 832 847" stroke-width="1.3"/><path d="M805 862.5 C800 860, 791 864, 787.5 870 C785 875, 789 878, 795 876 C801 874, 806 868, 805 864 C804 861, 798 862, 794 866 C790 870, 791 874, 796 873"/><path d="M793 866 C797 862, 803 861, 801 866 C799 871, 793 874, 790 872"/><path d="M797 876.5 C802 876, 806 872, 808 868"/><path d="M803 876 L818 856 M805.5 876 L820.5 857 M808 875 L822 858 M810.5 873 L823 858.5 M801 874 L815 857"/><path d="M814 857 C817 854.5, 821 855, 823 857"/><path d="M802 883 L807.5 873.5"/></g>
</svg></body></html>
